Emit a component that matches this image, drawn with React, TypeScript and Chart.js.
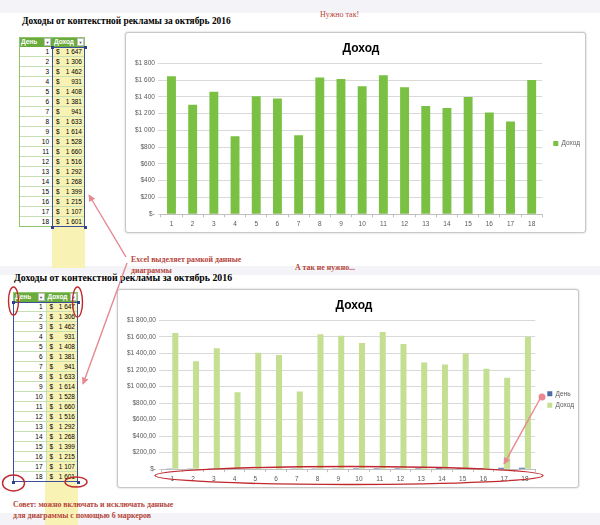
import React, { useEffect, useRef } from "react";
import { Chart, registerables } from "chart.js";

Chart.register(...registerables);

// ---------- data ----------
const DAYS = ["1", "2", "3", "4", "5", "6", "7", "8", "9", "10", "11", "12", "13", "14", "15", "16", "17", "18"];
const DAY_VALUES = [1, 2, 3, 4, 5, 6, 7, 8, 9, 10, 11, 12, 13, 14, 15, 16, 17, 18];
const REVENUE = [1647, 1306, 1462, 931, 1408, 1381, 941, 1633, 1614, 1528, 1660, 1516, 1292, 1268, 1399, 1215, 1107, 1601];
const Y_MAX = 1800;
const Y_STEP = 200;
const SERIES_REVENUE = "Доход";
const SERIES_DAY = "День";
const CHART_TITLE = "Доход";
const SHEET_TITLE = "Доходы от контекстной рекламы за октябрь 2016";

const SANS = "'Liberation Sans', Arial, sans-serif";
const SERIF = "'Liberation Serif', 'Times New Roman', serif";
const AXIS_COLOR = "#595959";
const NOTE_COLOR = "#b5443a";

function thousands(v: number): string {
  const s = Math.round(v).toString();
  return s.length > 3 ? s.slice(0, s.length - 3) + " " + s.slice(-3) : s;
}

function moneyTick(decimals: boolean) {
  return (v: any) => {
    const n = Number(v);
    if (n === 0) return "$-";
    return "$" + thousands(n) + (decimals ? ",00" : "");
  };
}

function baseOptions(decimals: boolean, padding: any, titleBottom: number, gap: number): any {
  return {
    animation: false,
    responsive: true,
    maintainAspectRatio: false,
    layout: { padding },
    plugins: {
      title: {
        display: true,
        text: CHART_TITLE,
        color: "#000",
        font: { family: SANS, size: 12, weight: "bold" },
        padding: { top: 3, bottom: titleBottom },
      },
      legend: {
        position: "right",
        title: { display: true, text: " ", font: { family: SANS, size: 10 }, padding: { top: 3, bottom: 3 } },
        labels: {
          boxWidth: 5,
          boxHeight: 5,
          color: AXIS_COLOR,
          font: { family: SANS, size: 6.5 },
          padding: 5,
        },
      },
      tooltip: { enabled: false },
    },
    scales: {
      x: {
        grid: { display: true, drawOnChartArea: false, drawTicks: true, tickLength: 3, color: "#bfbfbf", offset: true },
        border: { display: true, color: "#bfbfbf" },
        ticks: { color: AXIS_COLOR, font: { family: SANS, size: 6.5 }, padding: 3, maxRotation: 0, autoSkip: false },
      },
      y: {
        min: 0,
        max: Y_MAX,
        grid: { color: "#d9d9d9", drawTicks: true, tickLength: 3 },
        border: { display: false },
        ticks: {
          stepSize: Y_STEP,
          color: AXIS_COLOR,
          font: { family: SANS, size: 6.5 },
          padding: 3,
          callback: moneyTick(decimals),
        },
      },
      gap: {
        type: "linear",
        position: "right",
        display: true,
        grid: { display: false },
        border: { display: false },
        ticks: { display: false },
        afterFit: (scale: any) => {
          scale.width = gap;
        },
      },
    },
  };
}

function GoodChart() {
  const ref = useRef<HTMLCanvasElement | null>(null);
  useEffect(() => {
    if (!ref.current) return;
    const chart = new Chart(ref.current, {
      type: "bar",
      data: {
        labels: DAYS,
        datasets: [
          {
            label: SERIES_REVENUE,
            data: REVENUE,
            backgroundColor: "#7ac143",
            barPercentage: 0.42,
            categoryPercentage: 1,
            yAxisID: "y",
          },
        ],
      },
      options: baseOptions(false, { top: 5, left: 6, right: 0, bottom: 1 }, 8, 6),
    });
    return () => chart.destroy();
  }, []);
  return <canvas ref={ref} />;
}

function BadChart() {
  const ref = useRef<HTMLCanvasElement | null>(null);
  useEffect(() => {
    if (!ref.current) return;
    const chart = new Chart(ref.current, {
      type: "bar",
      data: {
        labels: DAYS,
        datasets: [
          {
            label: SERIES_DAY,
            data: DAY_VALUES,
            backgroundColor: "#4a6ca8",
            barPercentage: 1,
            categoryPercentage: 0.58,
            yAxisID: "y",
          },
          {
            label: SERIES_REVENUE,
            data: REVENUE,
            backgroundColor: "#c4df92",
            barPercentage: 1,
            categoryPercentage: 0.58,
            yAxisID: "y",
          },
        ],
      },
      options: baseOptions(true, { top: 5, left: 6, right: 0, bottom: 1 }, 8, 7),
    });
    return () => chart.destroy();
  }, []);
  return <canvas ref={ref} />;
}

function DataTable(props: { x: number; y: number; colW: number; headH: number; rowH: number; selectAll: boolean }) {
  const { x, y, colW, headH, rowH, selectAll } = props;
  const cell: React.CSSProperties = {
    position: "absolute",
    height: rowH,
    lineHeight: rowH - 1 + "px",
    fontFamily: SANS,
    fontSize: 6.5,
    color: "#000",
    boxSizing: "border-box",
    borderBottom: "1px solid #c6e0b4",
  };
  const filterBtn = (left: number): React.ReactNode => (
    <div
      style={{
        position: "absolute",
        left,
        top: 1,
        width: 7,
        height: headH - 2,
        background: "#fff",
        border: "1px solid #bfbfbf",
        boxSizing: "border-box",
        fontSize: 4,
        lineHeight: headH - 3 + "px",
        textAlign: "center",
        color: "#555",
      }}
    >
      ▼
    </div>
  );
  const total = headH + rowH * DAYS.length;
  const selLeft = selectAll ? 0 : colW;
  const selW = selectAll ? colW * 2 : colW;
  const handle = (hx: number, hy: number) => (
    <div style={{ position: "absolute", left: hx - 1.5, top: hy - 1.5, width: 3, height: 3, background: "#2f3f8f" }} />
  );
  return (
    <div style={{ position: "absolute", left: x, top: y, width: colW * 2, height: total }}>
      <div style={{ position: "absolute", left: 0, top: 0, width: colW * 2, height: headH, background: "#6aab3d" }} />
      <div style={{ position: "absolute", left: 2, top: 0, height: headH, lineHeight: headH + "px", fontFamily: SANS, fontSize: 6.5, fontWeight: "bold", color: "#fff" }}>
        {SERIES_DAY}
      </div>
      {filterBtn(colW - 8)}
      <div style={{ position: "absolute", left: colW + 2, top: 0, height: headH, lineHeight: headH + "px", fontFamily: SANS, fontSize: 6.5, fontWeight: "bold", color: "#fff" }}>
        {SERIES_REVENUE}
      </div>
      {filterBtn(colW * 2 - 8)}
      {DAYS.map((d, i) => (
        <React.Fragment key={d}>
          <div style={{ ...cell, left: 0, top: headH + i * rowH, width: colW, background: "#fff", textAlign: "right", paddingRight: 3 }}>{d}</div>
          <div style={{ ...cell, left: colW, top: headH + i * rowH, width: colW, background: "transparent" }}>
            <span style={{ position: "absolute", left: 4 }}>$</span>
            <span style={{ position: "absolute", right: 3 }}>{thousands(REVENUE[i])}</span>
          </div>
        </React.Fragment>
      ))}
      <div style={{ position: "absolute", left: 0, top: 0, width: colW * 2, height: total, border: "1px solid #8fc46a", boxSizing: "border-box" }} />
      <div style={{ position: "absolute", left: colW, top: headH, width: 0, height: total - headH, borderLeft: "1px solid #c6e0b4" }} />
      <div
        style={{
          position: "absolute",
          left: selLeft,
          top: headH,
          width: selW,
          height: total - headH,
          border: "1px solid #3d4f9a",
          boxSizing: "border-box",
        }}
      />
      {handle(selLeft, headH)}
      {handle(selLeft + selW, headH)}
      {handle(selLeft, total)}
      {handle(selLeft + selW, total)}
    </div>
  );
}

const note: React.CSSProperties = {
  position: "absolute",
  fontFamily: SERIF,
  fontSize: 7.8,
  fontWeight: "bold",
  color: NOTE_COLOR,
  whiteSpace: "nowrap",
};

export default function App() {
  const box = (l: number, t: number, w: number, h: number): React.CSSProperties => ({
    position: "absolute",
    left: l,
    top: t,
    width: w,
    height: h,
    border: "1px solid #c8c8c8",
    borderRadius: 3,
    boxShadow: "0 0 2px rgba(0,0,0,0.25)",
    background: "#fff",
    boxSizing: "border-box",
  });
  return (
    <div style={{ position: "absolute", left: 0, top: 0, width: 600, height: 525, background: "#fff", overflow: "hidden" }}>
      {/* background bands */}
      <div style={{ position: "absolute", left: 0, top: 0, width: 600, height: 13, background: "#f4f4f8" }} />
      <div style={{ position: "absolute", left: 0, top: 266, width: 600, height: 9, background: "#f4f4f8" }} />
      <div style={{ position: "absolute", left: 0, top: 513, width: 600, height: 12, background: "#f4f4f8" }} />

      {/* yellow highlight columns */}
      <div style={{ position: "absolute", left: 52, top: 47, width: 33, height: 221, background: "#f8f3b4" }} />
      <div style={{ position: "absolute", left: 45, top: 302, width: 33, height: 223, background: "#f8f3b4" }} />

      {/* titles */}
      <div style={{ position: "absolute", left: 22, top: 16, fontFamily: SERIF, fontSize: 9.4, fontWeight: "bold", whiteSpace: "nowrap" }}>
        {SHEET_TITLE}
      </div>
      <div style={{ position: "absolute", left: 14, top: 272, fontFamily: SERIF, fontSize: 9.8, fontWeight: "bold", whiteSpace: "nowrap" }}>
        {SHEET_TITLE}
      </div>

      <div style={{ ...note, left: 320, top: 10, fontWeight: "normal", fontSize: 8 }}>Нужно так!</div>
      <div style={{ ...note, left: 131, top: 255 }}>Excel выделяет рамкой данные</div>
      <div style={{ ...note, left: 131, top: 266 }}>диаграммы</div>
      <div style={{ ...note, left: 295, top: 263 }}>А так не нужно...</div>
      <div style={{ ...note, left: 13, top: 500 }}>Совет: можно включать и исключать данные</div>
      <div style={{ ...note, left: 13, top: 511 }}>для диаграммы с помощью 6 маркеров</div>

      {/* tables */}
      <DataTable x={19} y={37} colW={33} headH={10} rowH={10} selectAll={false} />
      <DataTable x={13} y={292} colW={32.5} headH={10} rowH={10} selectAll={true} />

      {/* charts */}
      <div style={box(125, 32, 461, 201)}>
        <div style={{ position: "absolute", left: 0, top: 0, width: 464, height: 199 }}>
          <GoodChart />
        </div>
      </div>
      <div style={box(117, 289, 462, 199)}>
        <div style={{ position: "absolute", left: 0, top: 0, width: 466, height: 197 }}>
          <BadChart />
        </div>
      </div>

      {/* annotations */}
      <svg width={600} height={525} style={{ position: "absolute", left: 0, top: 0, pointerEvents: "none" }}>
        <defs>
          <marker id="ah" viewBox="0 0 10 10" refX="9" refY="5" markerWidth="5" markerHeight="5" orient="auto-start-reverse">
            <path d="M0,0 L10,5 L0,10 z" fill="#e88890" />
          </marker>
        </defs>
        <line x1={126} y1={257} x2={89} y2={195} stroke="#e88890" strokeWidth={1.4} markerEnd="url(#ah)" />
        <line x1={127} y1={263} x2={83} y2={384} stroke="#e88890" strokeWidth={1.4} markerEnd="url(#ah)" />
        <line x1={541} y1={397} x2={504} y2={464} stroke="#e88890" strokeWidth={1.4} markerEnd="url(#ah)" />
        <circle cx={542} cy={397} r={3.5} fill="#e88890" />
        <g fill="none" stroke="#c0282d" strokeWidth={1.4}>
          <ellipse cx={13.5} cy={301} rx={5} ry={14} />
          <ellipse cx={77.5} cy={302} rx={5} ry={15} />
          <ellipse cx={13.5} cy={483} rx={11} ry={8} />
          <ellipse cx={76} cy={482} rx={11} ry={5} />
          <ellipse cx={349} cy={475.5} rx={194} ry={9} />
        </g>
      </svg>
    </div>
  );
}
